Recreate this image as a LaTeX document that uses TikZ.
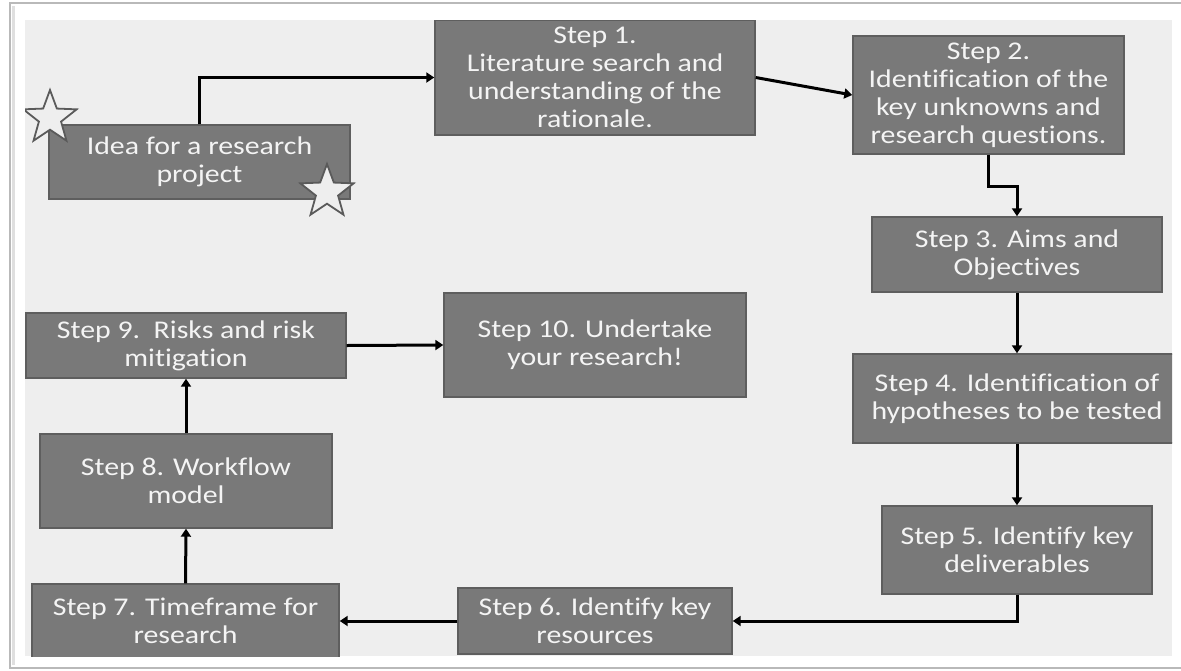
\documentclass[tikz,border=0pt]{standalone}
\usepackage{fontspec}
\setmainfont[FakeStretch=1.17,Ligatures=NoCommon]{Carlito}
\usetikzlibrary{arrows.meta,shapes.geometric}
\definecolor{panelgray}{HTML}{EEEEEE}
\definecolor{boxfill}{HTML}{797979}
\definecolor{boxedge}{HTML}{5E5E5E}
\definecolor{boxtext}{HTML}{F4F4F4}
\definecolor{staredge}{HTML}{5A5A5A}
\begin{document}
\begin{tikzpicture}[x=1pt,y=1pt,
  stepbox/.style={rectangle, draw=boxedge, fill=boxfill, line width=1.4pt,
    text=boxtext, align=center, inner sep=0pt,
    font=\fontsize{25.5}{28}\selectfont},
  flow/.style={draw=black, line width=3pt,
    -{Triangle[length=8pt,width=10pt]}},
  starmark/.style={star, star points=5, star point ratio=2.4,
    draw=staredge, fill=panelgray, line width=1.8pt, inner sep=0pt,
    minimum size=56pt}]
% page area and frame
\clip (0,0) rectangle (1181,-670);
\fill[white] (0,0) rectangle (1181,-670);
\draw[gray!55, line width=2pt] (10,-3) rectangle (1200,-668);
\draw[gray!25, line width=3pt] (13,-6) -- (13,-665);
\fill[panelgray] (25,-20) rectangle (1172,-656);

\begin{scope}
\clip (25,-20) rectangle (1172,-656);
% steps of the research plan
\node[stepbox, minimum width=301pt, minimum height=74pt] (idea) at (199.5,-162)
  {Idea for a research\\project};
\node[stepbox, minimum width=320pt, minimum height=115pt] (s1) at (595,-77.5)
  {Step 1.\\Literature search and\\understanding of the\\rationale.};
\node[stepbox, minimum width=271pt, minimum height=118pt] (s2) at (988.5,-95)
  {Step 2.\\Identification of the\\key unknowns and\\research questions.};
\node[stepbox, minimum width=290pt, minimum height=75pt] (s3) at (1017,-254.5)
  {Step 3. Aims and\\Objectives};
\node[stepbox, minimum width=328pt, minimum height=89pt] (s4) at (1017,-398.5)
  {Step 4. Identification of\\hypotheses to be tested};
\node[stepbox, minimum width=270pt, minimum height=88pt] (s5) at (1017,-550)
  {Step 5. Identify key\\deliverables};
\node[stepbox, minimum width=274pt, minimum height=66pt] (s6) at (595,-621)
  {Step 6. Identify key\\resources};
\node[stepbox, minimum width=307pt, minimum height=74pt] (s7) at (185.5,-621)
  {Step 7. Timeframe for\\research};
\node[stepbox, minimum width=292pt, minimum height=94pt] (s8) at (186,-481)
  {Step 8. Workflow\\model};
\node[stepbox, minimum width=320pt, minimum height=65pt] (s9) at (186,-345.5)
  {Step 9.~~Risks and risk\\mitigation};
\node[stepbox, minimum width=302pt, minimum height=104pt] (s10) at (595,-345)
  {Step 10. Undertake\\your research!};

% decorative stars on the idea box
\node[starmark] (starA) at (50,-118) {};
\node[starmark] (starB) at (327,-192) {};

% flow between the steps
\draw[flow] (idea.north) |- (s1.west);
\draw[flow] (s1.east) -- (s2.west);
\draw[flow] (s2.south) -- ++(0,-32) -| (s3.north);
\draw[flow] (s3.south) -- (s4.north);
\draw[flow] (s4.south) -- (s5.north);
\draw[flow] (s5.south) |- (s6.east);
\draw[flow] (s6.west) -- (s7.east);
\draw[flow] (s7.north) -- (s8.south);
\draw[flow] (s8.north) -- (s9.south);
\draw[flow] (s9.east) -- (s10.west);
\end{scope}
\end{tikzpicture}
\end{document}
